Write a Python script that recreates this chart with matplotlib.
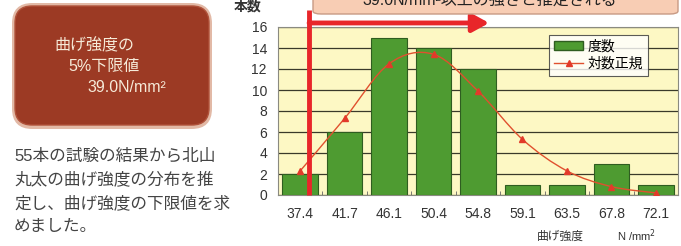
import numpy as np
import matplotlib
matplotlib.use('Agg')
import matplotlib.pyplot as plt
from matplotlib.patches import FancyBboxPatch, PathPatch, Patch
from matplotlib.lines import Line2D
from matplotlib.path import Path
import matplotlib.transforms as mtransforms

plt.rcParams['font.family'] = ['Liberation Sans', 'Noto Sans CJK JP', 'DejaVu Sans']

categories = ['37.4', '41.7', '46.1', '50.4', '54.8', '59.1', '63.5', '67.8', '72.1']
counts = [2, 6, 15, 14, 12, 1, 1, 3, 1]
lognormal = [2.3, 7.3, 12.5, 13.4, 9.9, 5.3, 2.3, 0.8, 0.2]
limit_pos = 0.2       # 39.0 N/mm2 in category units
yticks = [0, 2, 4, 6, 8, 10, 12, 14, 16]

box_lines = ['曲げ強度の', '5%下限値', '39.0N/mm²']
note_lines = ['55本の試験の結果から北山', '丸太の曲げ強度の分布を推',
              '定し、曲げ強度の下限値を求', 'めました。']
banner_text = '39.0N/mm²以上の強さと推定される'

W, H = 681, 246
fig = plt.figure(figsize=(W / 100, H / 100), dpi=100)
fig.patch.set_facecolor('white')


def fx(px):
    return px / W


def fy(py):
    return 1 - py / H


ax = fig.add_axes([fx(278), fy(195), fx(400), (195 - 27) / H])
ax.set_facecolor('#fdf8c4')

x = np.arange(len(categories))
ax.bar(x, counts, width=0.8, color='#4e9b31', edgecolor='#2f5d20', linewidth=0.8,
       zorder=3)

# smooth curve (Catmull-Rom -> cubic bezier) through the lognormal points
pts = np.column_stack([x, lognormal]).astype(float)
verts = [pts[0]]
codes = [Path.MOVETO]
for i in range(len(pts) - 1):
    p0 = pts[max(i - 1, 0)]
    p1 = pts[i]
    p2 = pts[i + 1]
    p3 = pts[min(i + 2, len(pts) - 1)]
    verts += [p1 + (p2 - p0) / 6, p2 - (p3 - p1) / 6, p2]
    codes += [Path.CURVE4] * 3
ax.add_patch(PathPatch(Path(verts, codes), facecolor='none', edgecolor='#e0502e',
                       linewidth=1.0, zorder=4))
ax.plot(x, lognormal, linestyle='none', marker='^', markersize=5,
        color='#e23a2a', zorder=5)

ax.set_xlim(-0.5, len(categories) - 0.5)
ax.set_ylim(0, 16)
ax.set_yticks(yticks)
ax.set_xticks(x)
ax.set_xticklabels(categories)
ax.set_xticks(np.arange(0.5, len(categories) - 1, 1), minor=True)
ax.tick_params(axis='x', which='major', length=0, pad=9, labelsize=10,
               labelcolor='#333333')
ax.tick_params(axis='x', which='minor', direction='in', length=3, color='#666666')
ax.tick_params(axis='y', length=0, pad=8, labelsize=10, labelcolor='#333333')
ax.grid(axis='y', color='#3a3a2a', linewidth=0.9, zorder=1)
ax.set_axisbelow(True)
for s in ax.spines.values():
    s.set_color('#8a8a80')
    s.set_linewidth(0.8)

# legend
handles = [Patch(facecolor='#4e9b31', edgecolor='#2f5d20', label='度数'),
           Line2D([], [], color='#e0502e', marker='^', markersize=5,
                  markerfacecolor='#e23a2a', markeredgecolor='#e23a2a',
                  linewidth=1, label='対数正規')]
leg = ax.legend(handles=handles, loc='upper right', bbox_to_anchor=(0.925, 0.955),
                fontsize=10, frameon=True, fancybox=False, borderpad=0.35,
                handlelength=2.1, handleheight=0.6, labelspacing=0.25,
                handletextpad=0.3, borderaxespad=0)
leg.get_frame().set_edgecolor('#333333')
leg.get_frame().set_linewidth(0.8)
leg.set_zorder(6)

# red limit line and arrow
trans = mtransforms.blended_transform_factory(ax.transData, ax.transAxes)
ax.plot([limit_pos, limit_pos], [0, 1.10], transform=trans, color='#e8262a',
        linewidth=3.5, clip_on=False, zorder=7, solid_capstyle='butt')
ax.annotate('', xy=(4.25, 1.024), xytext=(limit_pos, 1.024),
            xycoords=trans, textcoords=trans,
            arrowprops=dict(arrowstyle='-|>,head_length=1.0,head_width=0.55',
                            color='#e8262a', linewidth=3.5, shrinkA=0, shrinkB=0),
            annotation_clip=False, zorder=7)

# banner at top
banner = FancyBboxPatch((fx(313), fy(14)), fx(365), 0.12,
                        boxstyle='round,pad=0,rounding_size=0.012',
                        transform=fig.transFigure, facecolor='#f8cdb4',
                        edgecolor='#c89a84', linewidth=1.0, clip_on=False)
fig.add_artist(banner)
fig.text(fx(490), fy(1), banner_text, ha='center', va='center', fontsize=11.5,
         color='#222222')

fig.text(fx(248), fy(7), '本数', ha='center', va='center', fontsize=10,
         fontweight='bold', color='#333333')
fig.text(fx(560), fy(237), '曲げ強度', ha='center', va='center', fontsize=8.5,
         color='#333333')
fig.text(fx(636), fy(236), 'N /mm$^2$', ha='center', va='center', fontsize=8,
         color='#333333')

# left brown box
shadow = FancyBboxPatch((fx(12), fy(129)), fx(200), fy(3) - fy(129),
                        boxstyle='round,pad=0,rounding_size=0.03',
                        transform=fig.transFigure, facecolor='#e2b9a6',
                        edgecolor='none', mutation_aspect=W / H)
fig.add_artist(shadow)
brown = FancyBboxPatch((fx(15), fy(125)), fx(194), fy(6) - fy(125),
                       boxstyle='round,pad=0,rounding_size=0.025',
                       transform=fig.transFigure, facecolor='#9c3a24',
                       edgecolor='#b0523a', linewidth=1.0, mutation_aspect=W / H)
fig.add_artist(brown)
for txt, px, py in zip(box_lines, [54, 68, 87], [46, 67, 87]):
    fig.text(fx(px), fy(py), txt, ha='left', va='center', fontsize=11.5,
             color='#f6ead8')

for i, line in enumerate(note_lines):
    fig.text(fx(14), fy(156 + i * 23.5), line, ha='left', va='center',
             fontsize=12, color='#444444')

fig.savefig('out.png', dpi=100)
